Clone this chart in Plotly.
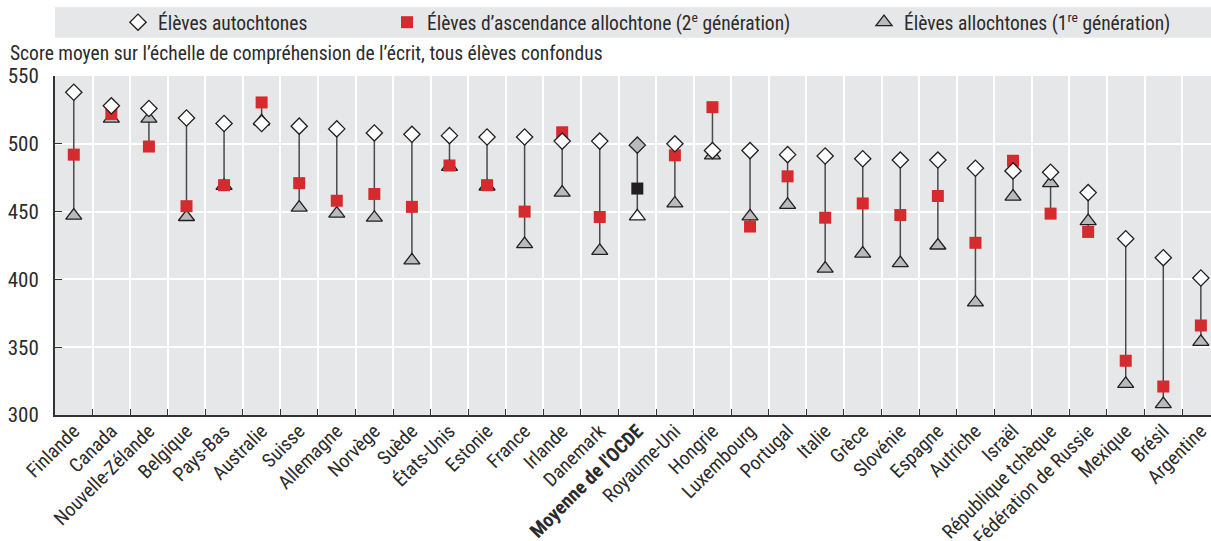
import plotly.graph_objects as go

categories = ["Finlande", "Canada", "Nouvelle-Zélande", "Belgique", "Pays-Bas", "Australie",
              "Suisse", "Allemagne", "Norvège", "Suède", "États-Unis", "Estonie", "France",
              "Irlande", "Danemark", "<b>Moyenne de l'OCDE</b>", "Royaume-Uni", "Hongrie",
              "Luxembourg", "Portugal", "Italie", "Grèce", "Slovénie", "Espagne", "Autriche",
              "Israël", "République tchèque", "Fédération de Russie", "Mexique", "Brésil",
              "Argentine"]

native = [538, 528, 526, 519, 515, 515, 513, 511, 508, 507, 506, 505, 505, 502, 502,
          499, 500, 495, 495, 492, 491, 489, 488, 488, 482, 480, 479, 464, 430, 416, 401]

second_gen = [492, 522, 498, 454, 469.5, 530.5, 471, 458, 463, 453.5, 484, 469.5, 450,
              508.5, 446, 467, 491.5, 527, 439, 476, 445.5, 456, 447.5, 461.5, 427,
              487.5, 448.5, 435, 340, 321, 366]

first_gen = [447, 518.5, 518.5, 446, 469, 516.5, 453, 448.5, 445.5, 414, 483, 468.5,
             426, 464, 421, 446.5, 456, 491.5, 446.5, 455, 408, 419, 412, 425, 383,
             461, 471, 443, 323, 308, 354]

OECD_INDEX = 15
FONT = "Liberation Sans Narrow, Arial Narrow, Roboto Condensed, DejaVu Sans Condensed, sans-serif"
TXT = "#2b2b2b"
OUTL = "#231f20"
RED = "#d52b2f"
GREY_FILL = "#b9babc"
BG = "#e6e7e8"
FS = 19.5

n = len(categories)
xs = list(range(n))

# connecting lines (min to max of the three series)
lx, ly = [], []
for i in xs:
    vals = [native[i], second_gen[i], first_gen[i]]
    lx += [i, i, None]
    ly += [max(vals), min(vals), None]

nat_fill = ["white"] * n
nat_fill[OECD_INDEX] = GREY_FILL
sec_fill = [RED] * n
sec_fill[OECD_INDEX] = OUTL
fir_fill = [GREY_FILL] * n
fir_fill[OECD_INDEX] = "white"

fig = go.Figure()
fig.add_trace(go.Scatter(x=lx, y=ly, mode="lines", line=dict(color="#4a4a4a", width=1.5),
                         showlegend=False, hoverinfo="skip"))
fig.add_trace(go.Scatter(x=xs, y=first_gen, mode="markers",
                         name="Élèves allochtones (1<sup>re</sup> génération)",
                         marker=dict(symbol="triangle-up", size=14, color=fir_fill,
                                     line=dict(color=OUTL, width=1.3)),
                         legend="legend3"))
fig.add_trace(go.Scatter(x=xs, y=second_gen, mode="markers",
                         name="Élèves d’ascendance allochtone (2<sup>e</sup> génération)",
                         marker=dict(symbol="square", size=12, color=sec_fill, line=dict(width=0)),
                         legend="legend2"))
fig.add_trace(go.Scatter(x=xs, y=native, mode="markers",
                         name="Élèves autochtones",
                         marker=dict(symbol="diamond", size=12.5, color=nat_fill,
                                     line=dict(color=OUTL, width=1.3)),
                         legend="legend"))

L, R, T, B = 55, 0, 76, 126
W, H = 1211, 541
PW = W - L - R
PH = H - T - B

def px_x(p):
    return (p - L) / PW

def px_y(p):
    return 1 + (T - p) / PH

xr = [-0.5, 30.27]
legend_common = dict(orientation="h", bgcolor="rgba(0,0,0,0)", yanchor="middle",
                     xanchor="left", font=dict(family=FONT, size=FS, color=TXT),
                     y=px_y(22.5), itemclick=False)

fig.update_layout(
    width=W, height=H,
    margin=dict(l=L, r=R, t=T, b=B, autoexpand=False),
    paper_bgcolor="white", plot_bgcolor=BG,
    font=dict(family=FONT, size=FS, color=TXT),
    legend=dict(legend_common, x=px_x(118)),
    legend2=dict(legend_common, x=px_x(387)),
    legend3=dict(legend_common, x=px_x(864)),
    xaxis=dict(range=xr, tickmode="array", tickvals=[i + 0.5 for i in range(n - 1)],
               showticklabels=False, ticks="inside", ticklen=6, tickcolor="#333",
               showgrid=True, gridcolor="white", gridwidth=2, zeroline=False,
               showline=True, linecolor="#333", linewidth=2, automargin=False),
    xaxis2=dict(range=xr, overlaying="x", anchor="y", side="bottom", tickmode="array",
                tickvals=xs, ticktext=categories, tickangle=-45, showgrid=False,
                zeroline=False, ticks="", showline=False, automargin=False,
                ticklabeloverflow="allow",
                tickfont=dict(family=FONT, size=FS, color=TXT)),
    yaxis=dict(range=[300, 550], dtick=50, ticks="inside", ticklen=7, tickcolor="#333",
               showgrid=True, gridcolor="white", gridwidth=2, zeroline=False,
               showline=True, linecolor="#333", linewidth=2, automargin=False,
               tickfont=dict(family=FONT, size=21, color=TXT), ticklabelstandoff=10),
    shapes=[dict(type="rect", xref="paper", yref="paper", x0=0, x1=1,
                 y0=px_y(37.7), y1=px_y(7.3), fillcolor=BG, line=dict(width=0), layer="below")],
    annotations=[dict(text="Score moyen sur l’échelle de compréhension de l’écrit, tous élèves confondus",
                      xref="paper", yref="paper", x=px_x(8), y=px_y(54), xanchor="left",
                      yanchor="middle", showarrow=False,
                      font=dict(family=FONT, size=FS, color=TXT))],
)

# invisible trace so that the label axis (xaxis2) is drawn
fig.add_trace(go.Scatter(x=[xs[0]], y=[None], xaxis="x2", showlegend=False, hoverinfo="skip"))

fig.write_html("out.html", config={"displayModeBar": False},
               post_script="document.body.style.margin='0';document.body.style.overflow='hidden';")
